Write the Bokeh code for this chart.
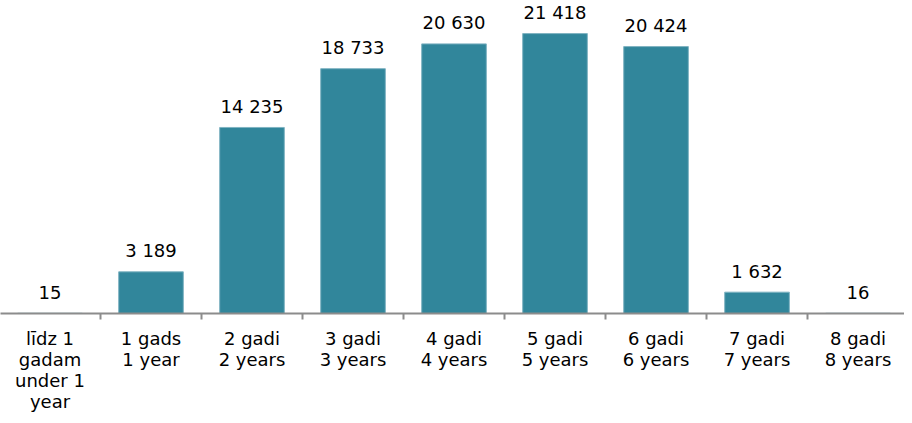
from bokeh.plotting import figure
from bokeh.models import ColumnDataSource, Range1d, LinearAxis, FixedTicker
from bokeh.core.properties import value
from bokeh.embed import file_html
from bokeh.resources import INLINE

categories = ["līdz 1\ngadam\nunder 1\nyear", "1 gads\n1 year", "2 gadi\n2 years",
              "3 gadi\n3 years", "4 gadi\n4 years", "5 gadi\n5 years",
              "6 gadi\n6 years", "7 gadi\n7 years", "8 gadi\n8 years"]
values = [15, 3189, 14235, 18733, 20630, 21418, 20424, 1632, 16]

FONT = "DejaVu Sans"
BAR = "#31869b"

xs = [i + 0.5 for i in range(len(values))]
bounds = [float(i) for i in range(len(values) + 1)]
labels = [f"{v:,}".replace(",", " ") for v in values]
src = ColumnDataSource(dict(x=xs, top=values, label=labels))

p = figure(frame_width=904, frame_height=313, output_backend="svg", toolbar_location=None,
           x_range=Range1d(0.01, 8.96), y_range=Range1d(0, 23950),
           min_border_left=0, min_border_right=0, min_border_top=0, min_border_bottom=0,
           x_axis_location=None, y_axis_location=None)
p.outline_line_color = None
p.grid.visible = False
p.background_fill_color = "white"

p.vbar(x="x", top="top", width=0.64, source=src, fill_color=BAR,
       line_color="#7fb3c2", line_width=1)
p.text(x="x", y="top", text="label", source=src, text_align="center",
       text_baseline="alphabetic", y_offset=-21, text_font=value(FONT),
       text_font_size="18px", text_color="#000000")

# labels at category centers, tick marks (minor ticks) at category boundaries
axis = LinearAxis(ticker=FixedTicker(ticks=xs, minor_ticks=bounds),
                  major_label_overrides={x: c for x, c in zip(xs, categories)},
                  axis_line_color="#8c8c8c", axis_line_width=2,
                  major_tick_line_color=None, major_tick_in=0, major_tick_out=0,
                  minor_tick_line_color="#8c8c8c", minor_tick_line_width=2,
                  minor_tick_in=0, minor_tick_out=6,
                  major_label_text_font=FONT, major_label_text_font_size="18px",
                  major_label_text_color="#000000", major_label_standoff=8,
                  major_label_text_line_height=1.0)
p.add_layout(axis, "below")

open("out.html", "w").write(file_html(p, INLINE))
